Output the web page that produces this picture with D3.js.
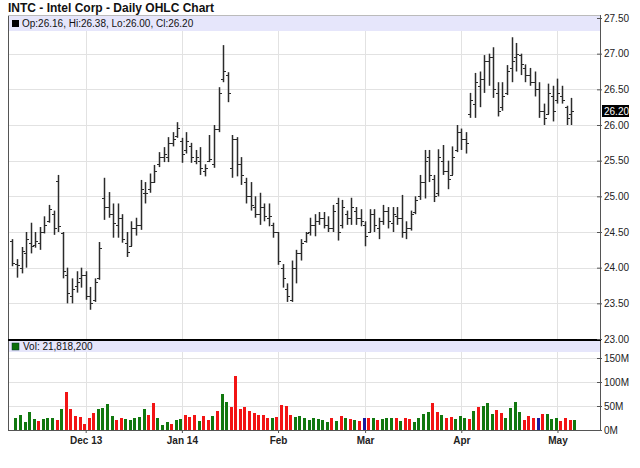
<!DOCTYPE html>
<html><head><meta charset="utf-8">
<script src="https://cdn.jsdelivr.net/npm/d3@7"></script>
<style>body{margin:0;background:#fff;} text{font-family:"Liberation Sans",Arial,sans-serif;}</style>
</head><body>
<svg id="chart" width="640" height="468"></svg>
<script>
// ---------- DATA ----------
const titleText = "INTC - Intel Corp - Daily OHLC Chart";
const legendText = "Op:26.16, Hi:26.38, Lo:26.00, Cl:26.20";
const volLegendText = "Vol: 21,818,200";
const lastClose = 26.20;

const opens = [24.38,24.05,24.00,24.20,24.35,24.32,24.35,24.50,24.65,24.75,25.22,24.48,23.90,23.60,23.75,23.85,23.90,23.60,23.55,23.85,
24.98,24.85,24.75,24.60,24.70,24.35,24.30,24.55,24.60,25.05,25.10,25.20,25.45,25.55,25.55,25.75,25.85,
25.78,25.65,25.70,25.50,25.50,25.35,25.50,25.45,25.95,26.65,26.70,25.40,25.80,25.45,25.20,25.00,24.85,24.75,24.85,24.70,24.60,
24.50,24.00,23.70,23.55,24.00,24.20,24.38,24.50,24.60,24.65,24.70,24.60,24.55,24.90,24.60,24.75,24.70,24.80,24.70,
24.60,24.50,24.75,24.55,24.65,24.80,24.62,24.72,24.70,24.50,24.55,24.78,25.00,25.20,25.55,25.25,25.05,25.50,25.35,25.30,25.65,
25.90,25.80,26.15,26.30,26.55,26.65,26.90,26.95,26.45,26.25,26.45,26.80,26.95,26.98,26.80,26.70,26.60,26.50,26.20,26.15,26.40,
26.35,26.40,26.25,26.16];
const highs = [24.40,24.12,24.29,24.50,24.63,24.50,24.57,24.72,24.88,24.80,25.30,24.50,24.00,23.85,23.95,24.00,23.95,23.73,23.85,24.36,
25.26,25.06,24.90,24.90,24.75,24.50,24.65,24.70,25.23,25.20,25.32,25.44,25.62,25.69,25.83,25.90,26.04,
25.82,25.90,25.75,25.65,25.69,25.45,25.86,26.00,26.53,27.12,26.74,25.86,25.83,25.55,25.26,25.20,25.00,25.05,24.90,24.90,24.63,
24.50,24.05,23.78,24.10,24.25,24.40,24.50,24.70,24.75,24.78,24.78,24.72,24.88,24.98,24.95,24.80,24.98,24.85,24.82,
24.65,24.82,24.82,24.70,24.88,24.85,24.85,24.85,25.02,24.65,24.80,25.00,25.30,25.65,25.65,25.30,25.66,25.72,25.50,25.70,26.00,
25.95,25.90,26.45,26.73,26.75,26.98,27.00,27.09,26.60,26.60,26.84,27.23,27.15,27.00,26.85,26.80,26.75,26.60,26.30,26.58,26.55,
26.65,26.55,26.27,26.38];
const lows = [24.02,23.86,23.92,24.00,24.20,24.28,24.25,24.48,24.63,24.46,24.50,23.85,23.50,23.50,23.65,23.72,23.55,23.41,23.52,23.83,
24.67,24.70,24.42,24.42,24.35,24.15,24.30,24.45,24.53,24.90,25.05,25.19,25.41,25.48,25.48,25.70,25.82,
25.47,25.60,25.47,25.45,25.30,25.28,25.48,25.40,25.90,26.60,26.32,25.26,25.28,25.16,24.90,24.80,24.70,24.60,24.65,24.58,24.42,
24.04,23.72,23.52,23.52,23.78,24.10,24.35,24.45,24.44,24.60,24.55,24.50,24.50,24.38,24.55,24.60,24.60,24.60,24.58,
24.30,24.50,24.50,24.40,24.60,24.55,24.50,24.60,24.42,24.40,24.52,24.75,24.95,24.97,25.20,24.92,25.00,25.30,25.10,25.30,25.62,
25.65,25.60,26.10,26.10,26.25,26.45,26.55,26.38,26.12,26.20,26.42,26.60,26.75,26.70,26.60,26.55,26.40,26.10,26.00,26.15,26.05,
26.30,26.30,26.00,26.00];
const closes = [24.06,24.04,24.24,24.40,24.30,24.38,24.50,24.60,24.82,24.55,24.58,23.95,23.65,23.70,23.80,23.90,23.60,23.50,23.80,24.28,
24.85,24.75,24.62,24.70,24.40,24.22,24.55,24.60,25.10,25.05,25.20,25.35,25.55,25.60,25.75,25.80,25.96,
25.60,25.78,25.55,25.55,25.40,25.40,25.52,25.95,26.45,26.75,26.45,25.80,25.45,25.30,25.00,24.88,24.75,24.85,24.72,24.72,24.50,
24.10,23.85,23.60,24.00,24.20,24.35,24.48,24.60,24.65,24.70,24.60,24.55,24.80,24.50,24.85,24.70,24.85,24.70,24.65,
24.45,24.75,24.60,24.65,24.80,24.65,24.75,24.70,24.50,24.55,24.75,24.95,25.20,25.50,25.30,25.00,25.55,25.35,25.25,25.55,25.90,
25.80,25.75,26.35,26.60,26.65,26.90,26.95,26.50,26.20,26.40,26.75,26.90,27.00,26.85,26.70,26.60,26.50,26.20,26.10,26.45,26.20,
26.45,26.35,26.10,26.20];
// volume in millions of shares, with up (u) / down (d) / unchanged (n) flag
const volumes = [25,31,17,37,22,19,22,24,24,20,43,79,43,29,28,12,25,35,43,45,54,29,21,24,22,20,24,28,43,31,57,26,11,17,13,20,22,
32,28,32,18,30,21,30,39,75,58,48,113,43,48,39,35,32,32,26,25,28,
52,50,32,28,30,24,20,26,22,20,17,26,19,30,24,22,20,19,24,
26,24,20,22,26,24,26,19,26,22,17,26,33,37,57,37,31,26,28,22,30,
24,22,39,48,50,57,33,42,35,26,45,59,38,20,30,26,26,33,33,22,26,
19,24,20,21.8182];
const volDir = ["u","u","u","u","u","d","u","u","u","d","u","d","d","d","d","d","d","d","u","u","u","u","d","d","u","u","u","u","u","d","d","u","u","u","d","u","u",
"d","d","d","u","d","d","u","d","u","u","d","d","d","d","d","d","d","d","d","u","d",
"d","d","d","u","u","u","u","u","u","u","u","d","u","d","u","d","u","d","n",
"d","u","d","u","u","u","d","u","d","d","u","u","u","u","d","d","u","d","d","u","u",
"u","d","u","d","u","u","u","d","d","u","u","u","u","d","d","d","n","d","u","u","u",
"d","d","d","u"];
const monthLabels = ["Dec 13","Jan 14","Feb","Mar","Apr","May"];
const monthIndex = [16,37,58,77,98,119];
const priceTicks = [23,23.5,24,24.5,25,25.5,26,26.5,27,27.5];
const volTicks = [0,50,100,150];

// ---------- LAYOUT ----------
const svg = d3.select("#chart");
const L = 8, R = 600;
const pTop = 15, pBot = 339, vTop = 340, vBot = 430;
const N = closes.length;

const x = d3.scalePoint().domain(d3.range(N)).range([12.4, 571.2]);
const y = d3.scaleLinear().domain([23, 27.5]).range([339, 18]);
const yv = d3.scaleLinear().domain([0, 150]).range([vBot, 358]);

const px = v => Math.round(v) + 0.5;

// title
svg.append("text").attr("x", 8).attr("y", 12).attr("font-size", 12).attr("font-weight", "bold")
  .attr("fill", "#111").text(titleText);

// grids
const grid = svg.append("g").attr("stroke", "#e2e2e2").attr("shape-rendering", "crispEdges");
grid.selectAll(".hp").data(priceTicks.filter(t => t > 23 && t < 27.5)).join("line")
  .attr("x1", L).attr("x2", R).attr("y1", d => px(y(d))).attr("y2", d => px(y(d)));
grid.selectAll(".hv").data(volTicks.filter(t => t > 0)).join("line").attr("class","hv")
  .attr("x1", L).attr("x2", R).attr("y1", d => px(yv(d))).attr("y2", d => px(yv(d)));
grid.selectAll(".vg").data(monthIndex).join("line").attr("class","vg")
  .attr("x1", d => px(x(d))).attr("x2", d => px(x(d))).attr("y1", pTop).attr("y2", vBot);

// legend bands
svg.append("rect").attr("x", L + 1).attr("y", pTop + 1).attr("width", R - L - 1).attr("height", 15).attr("fill", "#e6e6fb");
svg.append("rect").attr("x", L + 1).attr("y", vTop + 1).attr("width", R - L - 1).attr("height", 11).attr("fill", "#e6e6fb");
svg.append("rect").attr("x", 12).attr("y", 20).attr("width", 7).attr("height", 7).attr("fill", "#000");
svg.append("text").attr("x", 22).attr("y", 27).attr("font-size", 10).attr("fill", "#111").text(legendText);
svg.append("rect").attr("x", 12).attr("y", 343).attr("width", 7).attr("height", 7).attr("fill", "#0a6e0a").attr("stroke","#033").attr("stroke-width",0.5);
svg.append("text").attr("x", 23).attr("y", 350).attr("font-size", 10).attr("fill", "#111").text(volLegendText);

// OHLC bars
const bars = svg.append("g").attr("stroke", "#2b2b2b");
d3.range(N).forEach(i => {
  const cx = Math.round(x(i)) + 0.5;
  bars.append("line").attr("x1", cx).attr("x2", cx).attr("y1", y(highs[i])).attr("y2", y(lows[i]))
    .attr("stroke-width", 1.5);
  bars.append("line").attr("x1", cx - 2.5).attr("x2", cx).attr("y1", px(y(opens[i]))).attr("y2", px(y(opens[i])))
    .attr("stroke-width", 1).attr("shape-rendering", "crispEdges");
  bars.append("line").attr("x1", cx).attr("x2", cx + 2.5).attr("y1", px(y(closes[i]))).attr("y2", px(y(closes[i])))
    .attr("stroke-width", 1).attr("shape-rendering", "crispEdges");
});

// volume bars
const volColor = {u: "#11780f", d: "#f21414", n: "#1a1aa0"};
svg.append("g").attr("shape-rendering", "crispEdges").selectAll("rect").data(volumes).join("rect")
  .attr("x", (d, i) => Math.round(x(i)) + 2).attr("width", 3)
  .attr("y", d => Math.round(yv(d))).attr("height", d => vBot - Math.round(yv(d)))
  .attr("fill", (d, i) => volColor[volDir[i]]);

// frame
const frame = svg.append("g").attr("shape-rendering", "crispEdges");
frame.append("line").attr("x1", L + 0.5).attr("x2", L + 0.5).attr("y1", pTop).attr("y2", vBot).attr("stroke", "#555");
frame.append("line").attr("x1", L).attr("x2", R).attr("y1", pTop + 0.5).attr("y2", pTop + 0.5).attr("stroke", "#bbb");
frame.append("line").attr("x1", R + 0.5).attr("x2", R + 0.5).attr("y1", pTop).attr("y2", vBot + 1).attr("stroke", "#555");
frame.append("line").attr("x1", L).attr("x2", R + 1).attr("y1", 339.5).attr("y2", 339.5).attr("stroke", "#000").attr("stroke-width", 2);
frame.append("line").attr("x1", L).attr("x2", R + 1).attr("y1", vBot + 0.5).attr("y2", vBot + 0.5).attr("stroke", "#555");

// right price axis
const pAxis = d3.axisRight(y).tickValues(priceTicks).tickFormat(d3.format(".2f")).tickSize(3).tickPadding(2);
const gp = svg.append("g").attr("transform", `translate(${R - 1},0)`).call(pAxis);
const vAxis = d3.axisRight(yv).tickValues(volTicks).tickFormat(d => d + "M").tickSize(3).tickPadding(2);
const gv = svg.append("g").attr("transform", `translate(${R - 1},0)`).call(vAxis);
[gp, gv].forEach(g => {
  g.select(".domain").remove();
  g.selectAll("line").attr("stroke", "#555").attr("x1", -2);
  g.selectAll("text").attr("font-size", 10).attr("fill", "#222").attr("font-family", "Liberation Sans, Arial, sans-serif");
});

// last price marker
const ly = y(lastClose);
svg.append("rect").attr("x", 602).attr("y", Math.round(ly) - 6).attr("width", 27).attr("height", 12).attr("fill", "#000");
svg.append("text").attr("x", 604).attr("y", Math.round(ly) + 4).attr("font-size", 10).attr("fill", "#fff").text(d3.format(".2f")(lastClose));

// bottom month axis
const xAxis = d3.axisBottom(x).tickValues(monthIndex).tickFormat((d, i) => monthLabels[i]).tickSize(3).tickPadding(4);
const gx = svg.append("g").attr("transform", `translate(0,${vBot})`).call(xAxis);
gx.select(".domain").remove();
gx.selectAll("line").attr("stroke", "#555");
gx.selectAll("text").attr("font-size", 10).attr("font-weight", "bold").attr("fill", "#222").attr("font-family", "Liberation Sans, Arial, sans-serif");
</script>
</body></html>
